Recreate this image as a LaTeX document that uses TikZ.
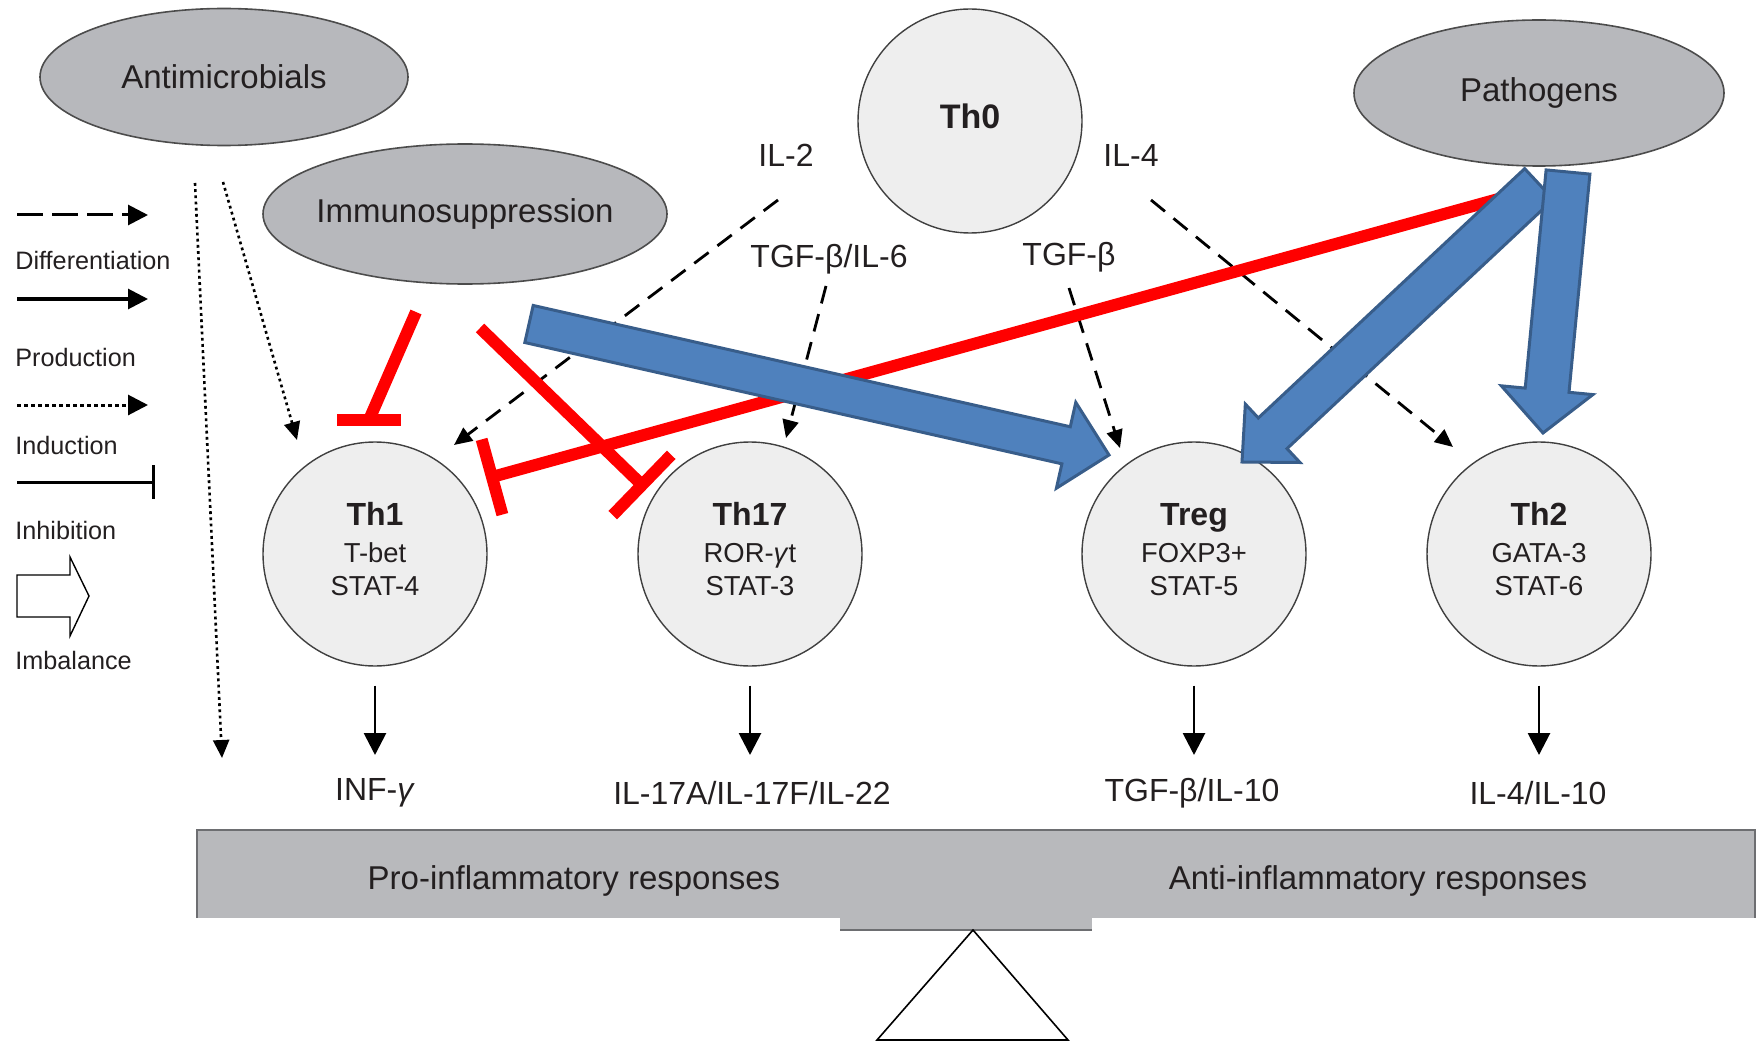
\documentclass[tikz,border=0pt]{standalone}
\usepackage{fontspec}
\setmainfont{Liberation Sans}
\usetikzlibrary{calc,arrows.meta,shapes.geometric}
\definecolor{ellgray}{HTML}{B7B8BC}
\definecolor{cellfill}{HTML}{EEEEEE}
\definecolor{bfill}{HTML}{4F81BD}
\definecolor{bedge}{HTML}{385D8A}
\definecolor{txt}{HTML}{231F20}
\definecolor{bargray}{HTML}{B8B9BC}
\definecolor{bardark}{HTML}{6D6E71}
% #1 tail, #2 tip, #3 half shaft width, #4 half head width, #5 head length
\newcommand\fatarrow[5]{%
  \coordinate (fa-n) at ($(#2)!#5!(#1)$);
  \draw[bluearrow] ($(#1)!#3!90:(#2)$) -- ($(fa-n)!#3!-90:(#1)$) -- ($(fa-n)!#4!-90:(#1)$)
    -- (#2) -- ($(fa-n)!#4!90:(#1)$) -- ($(fa-n)!#3!90:(#1)$) -- ($(#1)!#3!-90:(#2)$) -- cycle;
}
\newcommand\lift{\rule[-5pt]{0pt}{0pt}}
\begin{document}
\begin{tikzpicture}[x=0.5pt,y=-0.5pt,
  every node/.style={text=txt},
  ell/.style={ellipse, fill=ellgray, draw=black!70, line width=0.8pt, inner sep=0,
    font=\fontsize{16.5}{19}\selectfont},
  cell/.style={circle, minimum size=112pt, inner sep=0, fill=cellfill, draw=black!75,
    line width=0.7pt, align=center, font=\fontsize{13.7}{16.5}\selectfont},
  lbl/.style={inner sep=1pt, font=\fontsize{16}{19}\selectfont},
  diffarrow/.style={line width=1.4pt, dash pattern=on 9pt off 5.5pt, -{Triangle[length=9pt,width=8pt]}},
  indarrow/.style={line width=1.3pt, dash pattern=on 1.4pt off 1.7pt, -{Triangle[length=9pt,width=8pt]}},
  prodarrow/.style={line width=1.4pt, -{Triangle[length=11pt,width=11pt]}},
  inhib/.style={red, line width=6pt},
  bluearrow/.style={fill=bfill, draw=bedge, line width=1.5pt, line join=miter},
  leg/.style={anchor=west, inner sep=0, font=\fontsize{12.6}{15}\selectfont},
  legline/.style={line width=1.5pt},
  legtip/.style={-{Triangle[length=10pt,width=10pt]}}
]
\useasboundingbox (0,0) rectangle (1761,1043);

% ---------- legend ----------
\coordinate (lg1a) at (17,215); \coordinate (lg1b) at (148,215);
\draw[legline, legtip, dash pattern=on 13pt off 4.5pt] (lg1a) -- (lg1b);
\node[leg] (lgdiff) at (15,260) {Differentiation};
\coordinate (lg2a) at (17,299); \coordinate (lg2b) at (148,299);
\draw[legline, legtip] (lg2a) -- (lg2b);
\node[leg] (lgprod) at (15,357) {Production};
\coordinate (lg3a) at (17,405); \coordinate (lg3b) at (148,405);
\draw[legline, legtip, dash pattern=on 2pt off 1.5pt] (lg3a) -- (lg3b);
\node[leg] (lgind) at (15,445) {Induction};
\coordinate (lg4a) at (17,482); \coordinate (lg4b) at (153,482);
\draw[legline] (lg4a) -- (lg4b);
\draw[legline] ($(lg4b)+(0,-17)$) -- ($(lg4b)+(0,17)$);
\node[leg] (lginh) at (15,530) {Inhibition};
\draw[line width=0.7pt, fill=white, line join=miter]
  (17,575) -- (70,575) -- (70,557) -- (89,596) -- (70,636) -- (70,617) -- (17,617) -- cycle;
\node[leg] (lgimb) at (15,660) {Imbalance};

% ---------- ellipses ----------
\node[ell, minimum width=184pt, minimum height=68.5pt] (anti) at (224,77) {\makebox[0pt]{Antimicrobials}};
\node[ell, minimum width=202pt, minimum height=70pt] (immuno) at (465,214) {\makebox[0pt]{Immunosuppression}};
\node[ell, minimum width=185pt, minimum height=73pt] (path) at (1539,93) {\makebox[0pt]{Pathogens}};

% ---------- cells ----------
\node[cell] (th0) at (970,121) {{\bfseries\fontsize{17}{19}\selectfont Th0}\lift};
\node[cell] (th1) at (375,554) {{\bfseries\fontsize{16}{19}\selectfont Th1}\\[2pt]T-bet\\STAT-4\lift};
\node[cell] (th17) at (750,554) {{\bfseries\fontsize{16}{19}\selectfont Th17}\\[2pt]ROR-\textit{γ}t\\STAT-3\lift};
\node[cell] (treg) at (1194,554) {{\bfseries\fontsize{16}{19}\selectfont Treg}\\[2pt]FOXP3+\\STAT-5\lift};
\node[cell] (th2) at (1539,554) {{\bfseries\fontsize{16}{19}\selectfont Th2}\\[2pt]GATA-3\\STAT-6\lift};

% ---------- cytokine labels ----------
\node[lbl] (il2) at (786,155) {IL-2};
\node[lbl] (il4) at (1131,155) {IL-4};
\node[lbl] (tgf6) at (829,259) {TGF-β/IL-6};
\node[lbl] (tgfb) at (1069,257) {TGF-β};

\node[lbl] (inf) at (375,793) {INF-\textit{γ}};
\node[lbl] (il17) at (752,793) {IL-17A/IL-17F/IL-22};
\node[lbl] (tgf10) at (1192,793) {TGF-β/IL-10};
\node[lbl] (il410) at (1538,793) {IL-4/IL-10};

% ---------- balance ----------
\fill[bargray] (197,830) rectangle (1755,918);
\draw[bardark, line width=1.2pt] (197,918) -- (197,830) -- (1755,830) -- (1755,918);
\fill[bargray] (840,918) rectangle (1092,930);
\draw[bardark, line width=1.2pt] (840,930) -- (1092,930);
\node[lbl, font=\fontsize{16.5}{19}\selectfont] (pro) at (574,881) {Pro-inflammatory responses};
\node[lbl, font=\fontsize{16.5}{19}\selectfont] (antiinf) at (1378,881) {Anti-inflammatory responses};
\draw[line width=0.8pt, fill=white, line join=miter] (973,930) -- (877,1040) -- (1068,1040) -- cycle;

% ---------- production arrows ----------
\draw[prodarrow] ($(th1.south)+(0,19)$) -- ($(th1.south |- inf)+(0,-38)$);
\draw[prodarrow] ($(th17.south)+(0,19)$) -- ($(th17.south |- il17)+(0,-38)$);
\draw[prodarrow] ($(treg.south)+(0,19)$) -- ($(treg.south |- tgf10)+(0,-38)$);
\draw[prodarrow] ($(th2.south)+(0,19)$) -- ($(th2.south |- il410)+(0,-38)$);

% ---------- differentiation (dashed) ----------
\draw[diffarrow] ($(il2)+(-8,45)$) -- ($(th1)+(79,-109)$);
\draw[diffarrow] ($(tgf6)+(-3,27)$) -- ($(th17)+(36,-116)$);
\draw[diffarrow] ($(tgfb)+(0,31)$) -- ($(treg)+(-74,-106)$);
\draw[diffarrow] ($(il4)+(20,45)$) -- ($(th2)+(-86,-107)$);

% ---------- induction (dotted) ----------
\coordinate (indend) at (222,758);
\draw[indarrow] ($(anti)+(-29,106)$) -- (indend);
\draw[indarrow] ($(anti)+(-1,105)$) -- ($(th1)+(-78,-114)$);

% ---------- inhibition (red) ----------
\coordinate (r1s) at ($(immuno)+(-49,98)$);
\coordinate (r1e) at ($(th1)+(-6,-134)$);
\draw[inhib] (r1s) -- (r1e);
\draw[inhib] ($(r1e)+(-32,0)$) -- ($(r1e)+(32,0)$);

\coordinate (r2s) at ($(immuno)+(15,114)$);
\coordinate (r2e) at ($(th17)+(-108,-69)$);
\draw[inhib] (r2s) -- (r2e);
\draw[inhib] ($(r2e)!21pt!90:(r2s)$) -- ($(r2e)!21pt!-90:(r2s)$);

\coordinate (r3s) at ($(path)+(-37,105)$);
\coordinate (r3e) at ($(th1)+(117,-77)$);
\draw[inhib] (r3s) -- (r3e);
\draw[inhib] ($(r3e)!19.5pt!90:(r3s)$) -- ($(r3e)!19.5pt!-90:(r3s)$);

% ---------- imbalance (blue) ----------
\coordinate (b1s) at ($(immuno)+(64,110)$);
\coordinate (b1e) at ($(treg)+(-85,-99)$);
\fatarrow{b1s}{b1e}{9.5pt}{22pt}{22pt}
\coordinate (b2s) at ($(path)+(0,91)$);
\coordinate (b2e) at ($(treg)+(48,-92)$);
\fatarrow{b2s}{b2e}{10.5pt}{20pt}{21pt}
\coordinate (b3s) at ($(path)+(29,79)$);
\coordinate (b3e) at ($(th2)+(4,-121)$);
\fatarrow{b3s}{b3e}{11pt}{23pt}{21.5pt}
\end{tikzpicture}
\end{document}
